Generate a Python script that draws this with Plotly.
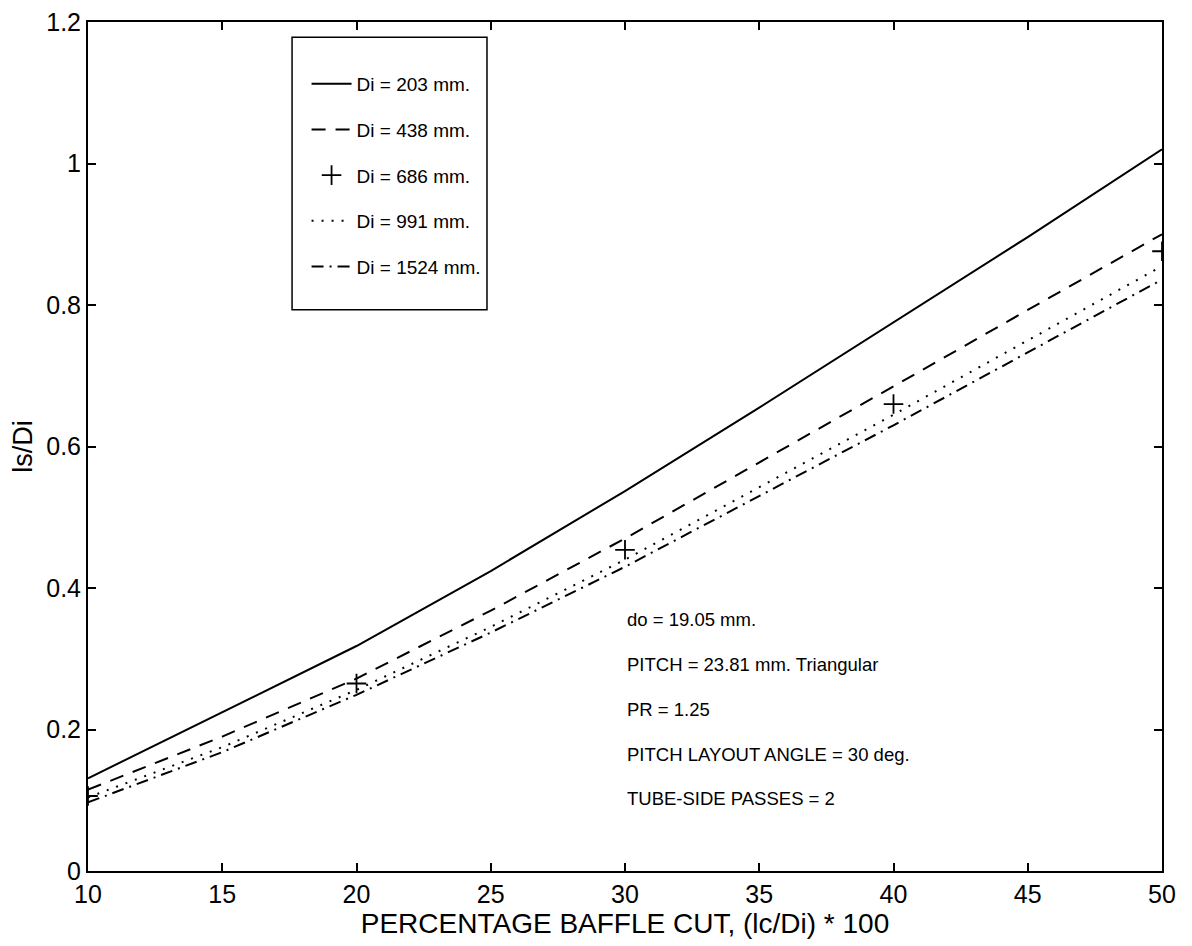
import plotly.graph_objects as go

# Percentage baffle cut
x_cut = [10, 15, 20, 25, 30, 35, 40, 45, 50]
x_plus = [10, 20, 30, 40, 50]

ls_203 = [0.131, 0.224, 0.318, 0.424, 0.537, 0.655, 0.775, 0.896, 1.020]
ls_438 = [0.115, 0.190, 0.272, 0.368, 0.470, 0.577, 0.685, 0.793, 0.900]
ls_686 = [0.106, 0.265, 0.454, 0.660, 0.876]
ls_991 = [0.104, 0.175, 0.256, 0.345, 0.440, 0.542, 0.645, 0.750, 0.855]
ls_1524 = [0.097, 0.168, 0.249, 0.337, 0.430, 0.530, 0.630, 0.733, 0.836]

legend_names = ["Di = 203 mm.", "Di = 438 mm.", "Di = 686 mm.", "Di = 991 mm.", "Di = 1524 mm."]

notes = ["do = 19.05 mm.",
         "PITCH = 23.81 mm. Triangular",
         "PR = 1.25",
         "PITCH LAYOUT ANGLE = 30 deg.",
         "TUBE-SIDE PASSES = 2"]
notes_y = [0.355, 0.292, 0.228, 0.165, 0.102]
notes_x = 30

FONT = "Liberation Sans, Arial, Helvetica, sans-serif"

fig = go.Figure()
fig.add_trace(go.Scatter(x=x_cut, y=ls_203, mode="lines", name=legend_names[0], legendgroup="a",
                         line=dict(color="black", width=2)))
fig.add_trace(go.Scatter(x=x_cut, y=ls_438, mode="lines", name=legend_names[1], legendgroup="b",
                         line=dict(color="black", width=2, dash="14px,10px")))
fig.add_trace(go.Scatter(x=x_plus, y=ls_686, mode="markers", name=legend_names[2], legendgroup="c",
                         marker=dict(symbol="cross-thin", size=14, color="black",
                                     line=dict(color="black", width=1.8))))
fig.add_trace(go.Scatter(x=x_cut, y=ls_991, mode="lines", name=legend_names[3], legendgroup="d",
                         line=dict(color="black", width=2, dash="2px,8px")))
fig.add_trace(go.Scatter(x=x_cut, y=ls_1524, mode="lines", name=legend_names[4], legendgroup="e",
                         line=dict(color="black", width=2, dash="12px,6px,2px,6px")))

for t, yy in zip(notes, notes_y):
    fig.add_annotation(x=notes_x, y=yy, text=t, showarrow=False, xanchor="left", yanchor="middle",
                       font=dict(size=18.5, color="black", family=FONT))

# legend frame
fig.add_shape(type="rect", xref="paper", yref="paper", x0=0.190, x1=0.3715, y0=0.661, y1=0.982,
              line=dict(color="black", width=1.5), fillcolor="rgba(0,0,0,0)")

axis_common = dict(showline=True, linecolor="black", linewidth=2, mirror="allticks",
                   ticks="inside", ticklen=8, tickwidth=1.5, tickcolor="black",
                   showgrid=False, zeroline=False, automargin=False,
                   ticklabeloverflow="allow",
                   tickfont=dict(size=25, color="black", family=FONT))

fig.update_xaxes(range=[10, 50], dtick=5, tick0=10,
                 title=dict(text="PERCENTAGE BAFFLE CUT, (lc/Di) * 100", standoff=0,
                            font=dict(size=28, color="black", family=FONT)),
                 **axis_common)
fig.update_yaxes(range=[0, 1.2], dtick=0.2, tick0=0,
                 title=dict(text="ls/Di",
                            font=dict(size=27, color="black", family=FONT)),
                 **axis_common)

fig.update_layout(
    width=1192, height=946,
    margin=dict(l=80, r=38, t=14, b=83),
    paper_bgcolor="white", plot_bgcolor="white",
    font=dict(family=FONT, color="black"),
    legend=dict(x=0.2035, y=0.9495, xanchor="left", yanchor="top",
                bgcolor="rgba(0,0,0,0)", borderwidth=0,
                font=dict(size=19, color="black", family=FONT),
                tracegroupgap=18, itemwidth=40),
)

fig.write_html("out.html")
